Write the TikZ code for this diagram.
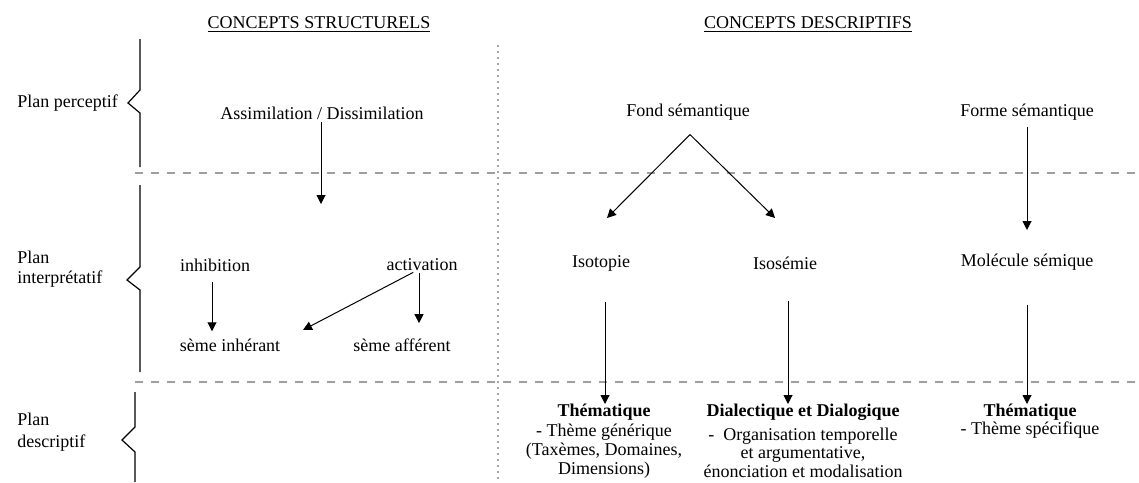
\documentclass[tikz,border=0pt]{standalone}
\usepackage{fontspec}
\setmainfont{Liberation Serif}
\usetikzlibrary{arrows.meta}
\begin{document}
\begin{tikzpicture}[x=0.5pt,y=-0.5pt,
  txt/.style={inner sep=0pt, font=\fontsize{9}{10}\selectfont},
  fleche/.style={-{Triangle[length=4.5pt,width=4.5pt]}, line width=0.5pt},
  separ/.style={gray!75, line width=0.6pt, dash pattern=on 4pt off 4pt},
  accol/.style={line width=0.6pt}]
  \useasboundingbox (0,0) rectangle (1139,482);

  % colonnes
  \node[txt] (cs) at (319,25) {\underline{CONCEPTS STRUCTURELS}};
  \node[txt] (cd) at (808,25) {\underline{CONCEPTS DESCRIPTIFS}};
  \draw[gray!70, line width=0.6pt, dash pattern=on 1pt off 2pt] (498,45) -- (498,482);

  % plans
  \draw[separ] (135,173) -- (1137,173);
  \draw[separ] (135,382) -- (1137,382);
  \draw[accol] (140,39) -- (140,90) -- (128,103) -- (140,113) -- (140,167);
  \draw[accol] (140,185) -- (140,267) -- (127,280) -- (140,290) -- (140,372);
  \draw[accol] (135,392) -- (135,427) -- (122,440) -- (135,452) -- (135,482);
  \node[txt, anchor=west] (pp) at (17,103) {Plan perceptif};
  \node[txt, anchor=west, align=left] (pi) at (17,269) {Plan\\interprétatif};
  \node[txt, anchor=west, align=left, font=\fontsize{9}{11}\selectfont] (pd) at (17,432) {Plan\\descriptif};

  % concepts structurels
  \node[txt] (assim) at (322,113) {Assimilation / Dissimilation};
  \node[txt] (inhib) at (215,265) {inhibition};
  \node[txt] (activ) at (422,265) {activation};
  \node[txt] (sinh) at (230,345) {sème inhérant};
  \node[txt] (saff) at (402,345) {sème afférent};

  \coordinate (assimfin) at (321,204);
  \coordinate (activfin) at (303,330);
  \draw[fleche, shorten <=1pt] (assim.south -| 321,0) -- (assimfin);
  \draw[fleche, shorten <=5pt, shorten >=3.5pt] (inhib.south -| 212,0) -- (sinh.north -| 212,0);
  \draw[fleche, shorten <=1pt, shorten >=7.5pt] (activ.south -| 419,0) -- (saff.north -| 419,0);
  \draw[fleche, shorten <=1pt] (activ.south -| 415,0) -- (activfin);

  % concepts descriptifs
  \node[txt] (fond) at (688,112) {Fond sémantique};
  \node[txt] (forme) at (1027,112) {Forme sémantique};
  \node[txt] (isot) at (601,263) {Isotopie};
  \node[txt] (isos) at (785,263) {Isosémie};
  \node[txt] (molec) at (1027,262) {Molécule sémique};
  \node[txt, align=center, anchor=north, font=\fontsize{9}{9.65}\selectfont] (them1) at (604,404)
    {\textbf{Thématique}\\- Thème générique\\(Taxèmes, Domaines,\\Dimensions)};
  \node[txt, align=center, anchor=north, font=\fontsize{9}{7.75}\selectfont] (dial) at (803,404)
    {\textbf{Dialectique et Dialogique}\\[2.75pt]-\ \ Organisation temporelle\\et argumentative,\\énonciation et modalisation};
  \node[txt, align=center, anchor=north, font=\fontsize{9}{9}\selectfont] (them2) at (1030,404)
    {\textbf{Thématique}\\- Thème spécifique};

  \coordinate (isotfin) at (607,218);
  \coordinate (isosfin) at (775,218);
  \coordinate (formefin) at (1027,230);
  \draw[fleche] ([xshift=1pt,yshift=-7pt]fond.south) -- (isotfin);
  \draw[fleche] ([xshift=1pt,yshift=-7pt]fond.south) -- (isosfin);
  \draw[fleche, shorten <=3pt] (forme.south) -- (formefin);
  \draw[fleche, shorten <=15.5pt] (isot.south -| 605,0) -- (them1.north -| 605,0);
  \draw[fleche, shorten <=15.5pt] (isos.south -| 788,0) -- (dial.north -| 788,0);
  \draw[fleche, shorten <=17pt] (molec.south) -- (them2.north -| 1027,0);
\end{tikzpicture}
\end{document}
